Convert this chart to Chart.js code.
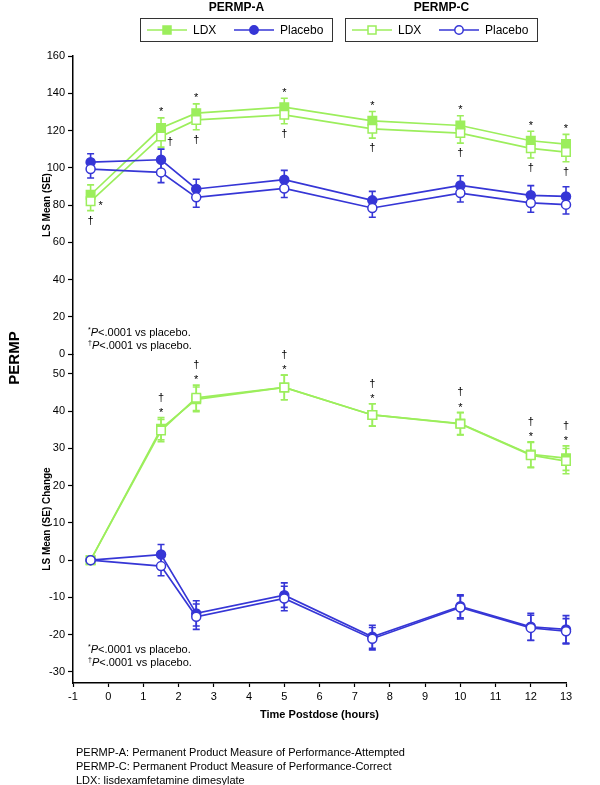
<!DOCTYPE html>
<html>
<head>
<meta charset="utf-8">
<script src="https://cdn.jsdelivr.net/npm/chart.js@4"></script>
<style>
  body { margin: 0; background: #fff; font-family: "Liberation Sans", Arial, sans-serif; color: #000; }
  #wrap { position: relative; width: 600px; height: 785px; overflow: hidden; }
  canvas { position: absolute; left: 0; top: 0; }
  .lgTitle { position: absolute; top: 0; width: 193px; text-align: center; font-weight: bold; font-size: 12px; line-height: 14px; }
  .lgBox { position: absolute; top: 18px; width: 193px; height: 24px; box-sizing: border-box; border: 1px solid #333; }
  .lgItem { position: absolute; top: 0; height: 22px; display: flex; align-items: center; font-size: 12px; }
  .lgItem svg { margin-right: 6px; }
  .note { position: absolute; left: 88px; font-size: 11px; line-height: 13px; white-space: nowrap; }
  .note sup { font-size: 7px; line-height: 0; vertical-align: 4px; }
  #permp { position: absolute; left: 13px; top: 358px; font-weight: bold; font-size: 15px;
           transform: translate(-50%, -50%) rotate(-90deg); white-space: nowrap; }
  #footer { position: absolute; left: 76px; top: 745px; font-size: 11px; line-height: 14px; white-space: nowrap; }
</style>
</head>
<body>
<div id="wrap">
  <canvas id="topChart" width="600" height="785"></canvas>
  <canvas id="bottomChart" width="600" height="785"></canvas>
  <div id="legend"></div>
  <div id="permp">PERMP</div>
  <div class="note" style="top:326px"><sup>*</sup><i>P</i>&lt;.0001 vs placebo.<br><sup>†</sup><i>P</i>&lt;.0001 vs placebo.</div>
  <div class="note" style="top:643px"><sup>*</sup><i>P</i>&lt;.0001 vs placebo.<br><sup>†</sup><i>P</i>&lt;.0001 vs placebo.</div>
  <div id="footer">PERMP-A: Permanent Product Measure of Performance-Attempted<br>PERMP-C: Permanent Product Measure of Performance-Correct<br>LDX: lisdexamfetamine dimesylate</div>
</div>
<script>
// time points (hours postdose)
const hours = [-0.5, 1.5, 2.5, 5, 7.5, 10, 12, 13];
const xTicks = [-1, 0, 1, 2, 3, 4, 5, 6, 7, 8, 9, 10, 11, 12, 13];
const yTicksTop = [0, 20, 40, 60, 80, 100, 120, 140, 160];
const yTicksBottom = [-30, -20, -10, 0, 10, 20, 30, 40, 50];

// LS mean (SE)
const ldxA = [85.5, 121.3, 129.3, 132.5, 125.2, 122.7, 114.5, 112.7];
const ldxASe = [5.3, 5.5, 5.0, 4.8, 5.0, 5.2, 5.1, 5.2];
const ldxC = [82.0, 116.8, 125.7, 128.4, 120.9, 118.6, 110.4, 108.4];
const ldxCSe = [5.0, 5.7, 5.3, 4.8, 5.0, 5.4, 5.2, 5.2];
const pboA = [103.0, 104.3, 88.6, 93.6, 82.5, 90.5, 85.2, 84.6];
const pboASe = [4.5, 5.7, 5.2, 5.0, 4.8, 5.2, 5.2, 5.2];
const pboC = [99.3, 97.5, 84.1, 88.9, 78.4, 86.4, 81.1, 80.2];
const pboCSe = [4.8, 5.5, 5.3, 4.9, 5.0, 4.8, 5.0, 5.0];

// LS mean (SE) change
const chgLdxA = [0, 35.3, 43.2, 46.4, 39.0, 36.7, 28.4, 27.4];
const chgLdxASe = [0, 3.0, 3.3, 3.3, 3.0, 3.0, 3.4, 3.3];
const chgLdxC = [0, 34.8, 43.6, 46.4, 39.0, 36.6, 28.2, 26.6];
const chgLdxCSe = [0, 3.0, 3.4, 3.3, 3.0, 3.0, 3.4, 3.4];
const chgPboA = [0, 1.5, -14.3, -9.4, -20.6, -12.4, -17.9, -18.6];
const chgPboASe = [0, 2.7, 3.4, 3.3, 3.1, 3.1, 3.6, 3.7];
const chgPboC = [0, -1.6, -15.2, -10.3, -21.1, -12.7, -18.2, -19.1];
const chgPboCSe = [0, 2.6, 3.4, 3.3, 3.0, 3.1, 3.4, 3.4];

// significance vs placebo (* = PERMP-A, † = PERMP-C)
const starTop = [true, true, true, true, true, true, true, true];
const daggerTop = [true, true, true, true, true, true, true, true];
const starChg = [false, true, true, true, true, true, true, true];
const daggerChg = [false, true, true, true, true, true, true, true];

const legendTitles = ['PERMP-A', 'PERMP-C'];
const legendLabels = ['LDX', 'Placebo'];

const GREEN = '#9cee5c';
const BLUE = '#3636d6';
const FONT = '"Liberation Sans", Arial, sans-serif';

Chart.defaults.font.family = FONT;
Chart.defaults.color = '#000';

// legend (two boxed groups)
function swatch(color, shape, filled) {
  const fill = filled ? color : '#fff';
  const marker = shape === 'rect'
    ? `<rect x="16" y="1" width="8" height="8" fill="${fill}" stroke="${color}" stroke-width="1.5"/>`
    : `<circle cx="20" cy="5" r="4.2" fill="${fill}" stroke="${color}" stroke-width="1.5"/>`;
  return `<svg width="40" height="10"><line x1="0" y1="5" x2="40" y2="5" stroke="${color}" stroke-width="1.5"/>${marker}</svg>`;
}
let lg = '';
legendTitles.forEach((t, g) => {
  const left = 140 + g * 205;
  const filled = g === 0;
  lg += `<div class="lgTitle" style="left:${left}px">${t}</div>`;
  lg += `<div class="lgBox" style="left:${left}px">`;
  lg += `<div class="lgItem" style="left:6px">${swatch(GREEN, 'rect', filled)}${legendLabels[0]}</div>`;
  lg += `<div class="lgItem" style="left:93px">${swatch(BLUE, 'circle', filled)}${legendLabels[1]}</div>`;
  lg += `</div>`;
});
document.getElementById('legend').innerHTML = lg;

// order: lower is drawn on top (placebo over LDX, open over filled)
function series(values, se, color, shape, filled, order) {
  return {
    data: hours.map((h, i) => ({ x: h, y: values[i] })),
    se: se,
    borderColor: color,
    backgroundColor: filled ? color : '#fff',
    pointBackgroundColor: filled ? color : '#fff',
    pointBorderColor: color,
    pointStyle: shape,
    pointRadius: shape === 'rect' ? 6 : 4.5,
    pointBorderWidth: 1.5,
    borderWidth: 1.7,
    tension: 0,
    clip: false,
    order: order
  };
}

// error bars for every dataset
const errorBars = {
  id: 'errorBars',
  beforeDatasetsDraw(chart) {
    const ctx = chart.ctx, ys = chart.scales.y;
    chart.data.datasets.forEach((ds, d) => {
      const pts = chart.getDatasetMeta(d).data;
      ctx.save();
      ctx.strokeStyle = ds.borderColor;
      ctx.lineWidth = 1.6;
      pts.forEach((p, i) => {
        const se = ds.se[i];
        if (!se) return;
        const y1 = ys.getPixelForValue(ds.data[i].y + se);
        const y2 = ys.getPixelForValue(ds.data[i].y - se);
        ctx.beginPath();
        ctx.moveTo(p.x, y1); ctx.lineTo(p.x, y2);
        ctx.moveTo(p.x - 3.5, y1); ctx.lineTo(p.x + 3.5, y1);
        ctx.moveTo(p.x - 3.5, y2); ctx.lineTo(p.x + 3.5, y2);
        ctx.stroke();
      });
      ctx.restore();
    });
  }
};

// draws a glyph with its visual centre at yc
function glyph(ctx, ch, x, yc) {
  const k = ch === '*' ? 0.57 : 0.27;
  ctx.fillText(ch, x, yc + k * 11);
}

function yAxis(min, max, ticks, title) {
  return {
    type: 'linear', min: min, max: max,
    afterBuildTicks: s => { s.ticks = ticks.map(v => ({ value: v })); },
    afterFit: s => { s.width = 32; },
    ticks: { font: { size: 11 }, color: '#000', padding: 3 },
    grid: { drawOnChartArea: false, tickLength: 5, color: '#000', tickWidth: 1.2 },
    border: { display: true, color: '#000', width: 1.5 },
    title: { display: true, text: title, color: '#000', font: { size: 10, weight: 'bold' }, padding: 0 }
  };
}

function xAxis(show) {
  return {
    type: 'linear', min: -1, max: 13, display: show,
    afterBuildTicks: s => { s.ticks = xTicks.map(v => ({ value: v })); },
    afterFit: s => { s.height = show ? 40 : 0; },
    ticks: { font: { size: 11 }, color: '#000', padding: 3 },
    grid: { drawOnChartArea: false, tickLength: 4, color: '#000', tickWidth: 1.2 },
    border: { display: true, color: '#000', width: 1.5 },
    title: { display: true, text: 'Time Postdose (hours)', color: '#000', font: { size: 11, weight: 'bold' }, padding: { top: 0, bottom: 1 } }
  };
}

const common = {
  responsive: false, animation: false, events: [],
  plugins: { legend: { display: false }, tooltip: { enabled: false } }
};

// top: LS mean
const topMarks = {
  id: 'topMarks',
  afterDatasetsDraw(chart) {
    const ctx = chart.ctx, ys = chart.scales.y;
    const a = chart.getDatasetMeta(0).data, c = chart.getDatasetMeta(1).data;
    ctx.save();
    ctx.fillStyle = '#000';
    ctx.font = '11px ' + FONT;
    ctx.textAlign = 'center';
    hours.forEach((h, i) => {
      if (starTop[i]) {
        if (i === 0) glyph(ctx, '*', c[i].x + 10, c[i].y + 1);
        else glyph(ctx, '*', a[i].x, ys.getPixelForValue(ldxA[i] + ldxASe[i]) - 9);
      }
      if (daggerTop[i]) {
        if (i === 1) glyph(ctx, '†', c[i].x + 9, c[i].y + 6);
        else glyph(ctx, '†', c[i].x, ys.getPixelForValue(ldxC[i] - ldxCSe[i]) + 10);
      }
    });
    ctx.restore();
  }
};

new Chart(document.getElementById('topChart'), {
  type: 'line',
  data: {
    datasets: [
      series(ldxA, ldxASe, GREEN, 'rect', true, 3),
      series(ldxC, ldxCSe, GREEN, 'rect', false, 2),
      series(pboA, pboASe, BLUE, 'circle', true, 1),
      series(pboC, pboCSe, BLUE, 'circle', false, 0)
    ]
  },
  options: Object.assign({}, common, {
    layout: { padding: { left: 41, right: 34, top: 56, bottom: 431 } },
    scales: { x: xAxis(false), y: yAxis(0, 160, yTicksTop, 'LS Mean (SE)') }
  }),
  plugins: [errorBars, topMarks]
});

// bottom: LS mean change
const chgMarks = {
  id: 'chgMarks',
  afterDatasetsDraw(chart) {
    const ctx = chart.ctx, ys = chart.scales.y;
    const a = chart.getDatasetMeta(0).data;
    ctx.save();
    ctx.fillStyle = '#000';
    ctx.font = '11px ' + FONT;
    ctx.textAlign = 'center';
    hours.forEach((h, i) => {
      const top = Math.min(ys.getPixelForValue(chgLdxA[i] + chgLdxASe[i]),
                           ys.getPixelForValue(chgLdxC[i] + chgLdxCSe[i]));
      if (starChg[i]) glyph(ctx, '*', a[i].x, top - 8);
      if (daggerChg[i]) glyph(ctx, '†', a[i].x, top - 20);
    });
    ctx.restore();
  }
};

new Chart(document.getElementById('bottomChart'), {
  type: 'line',
  data: {
    datasets: [
      series(chgLdxA, chgLdxASe, GREEN, 'rect', true, 3),
      series(chgLdxC, chgLdxCSe, GREEN, 'rect', false, 2),
      series(chgPboA, chgPboASe, BLUE, 'circle', true, 1),
      series(chgPboC, chgPboCSe, BLUE, 'circle', false, 0)
    ]
  },
  options: Object.assign({}, common, {
    layout: { padding: { left: 41, right: 34, top: 355, bottom: 62 } },
    scales: { x: xAxis(true), y: yAxis(-33, 55.1, yTicksBottom, 'LS Mean (SE) Change') }
  }),
  plugins: [errorBars, chgMarks]
});
</script>
</body>
</html>
